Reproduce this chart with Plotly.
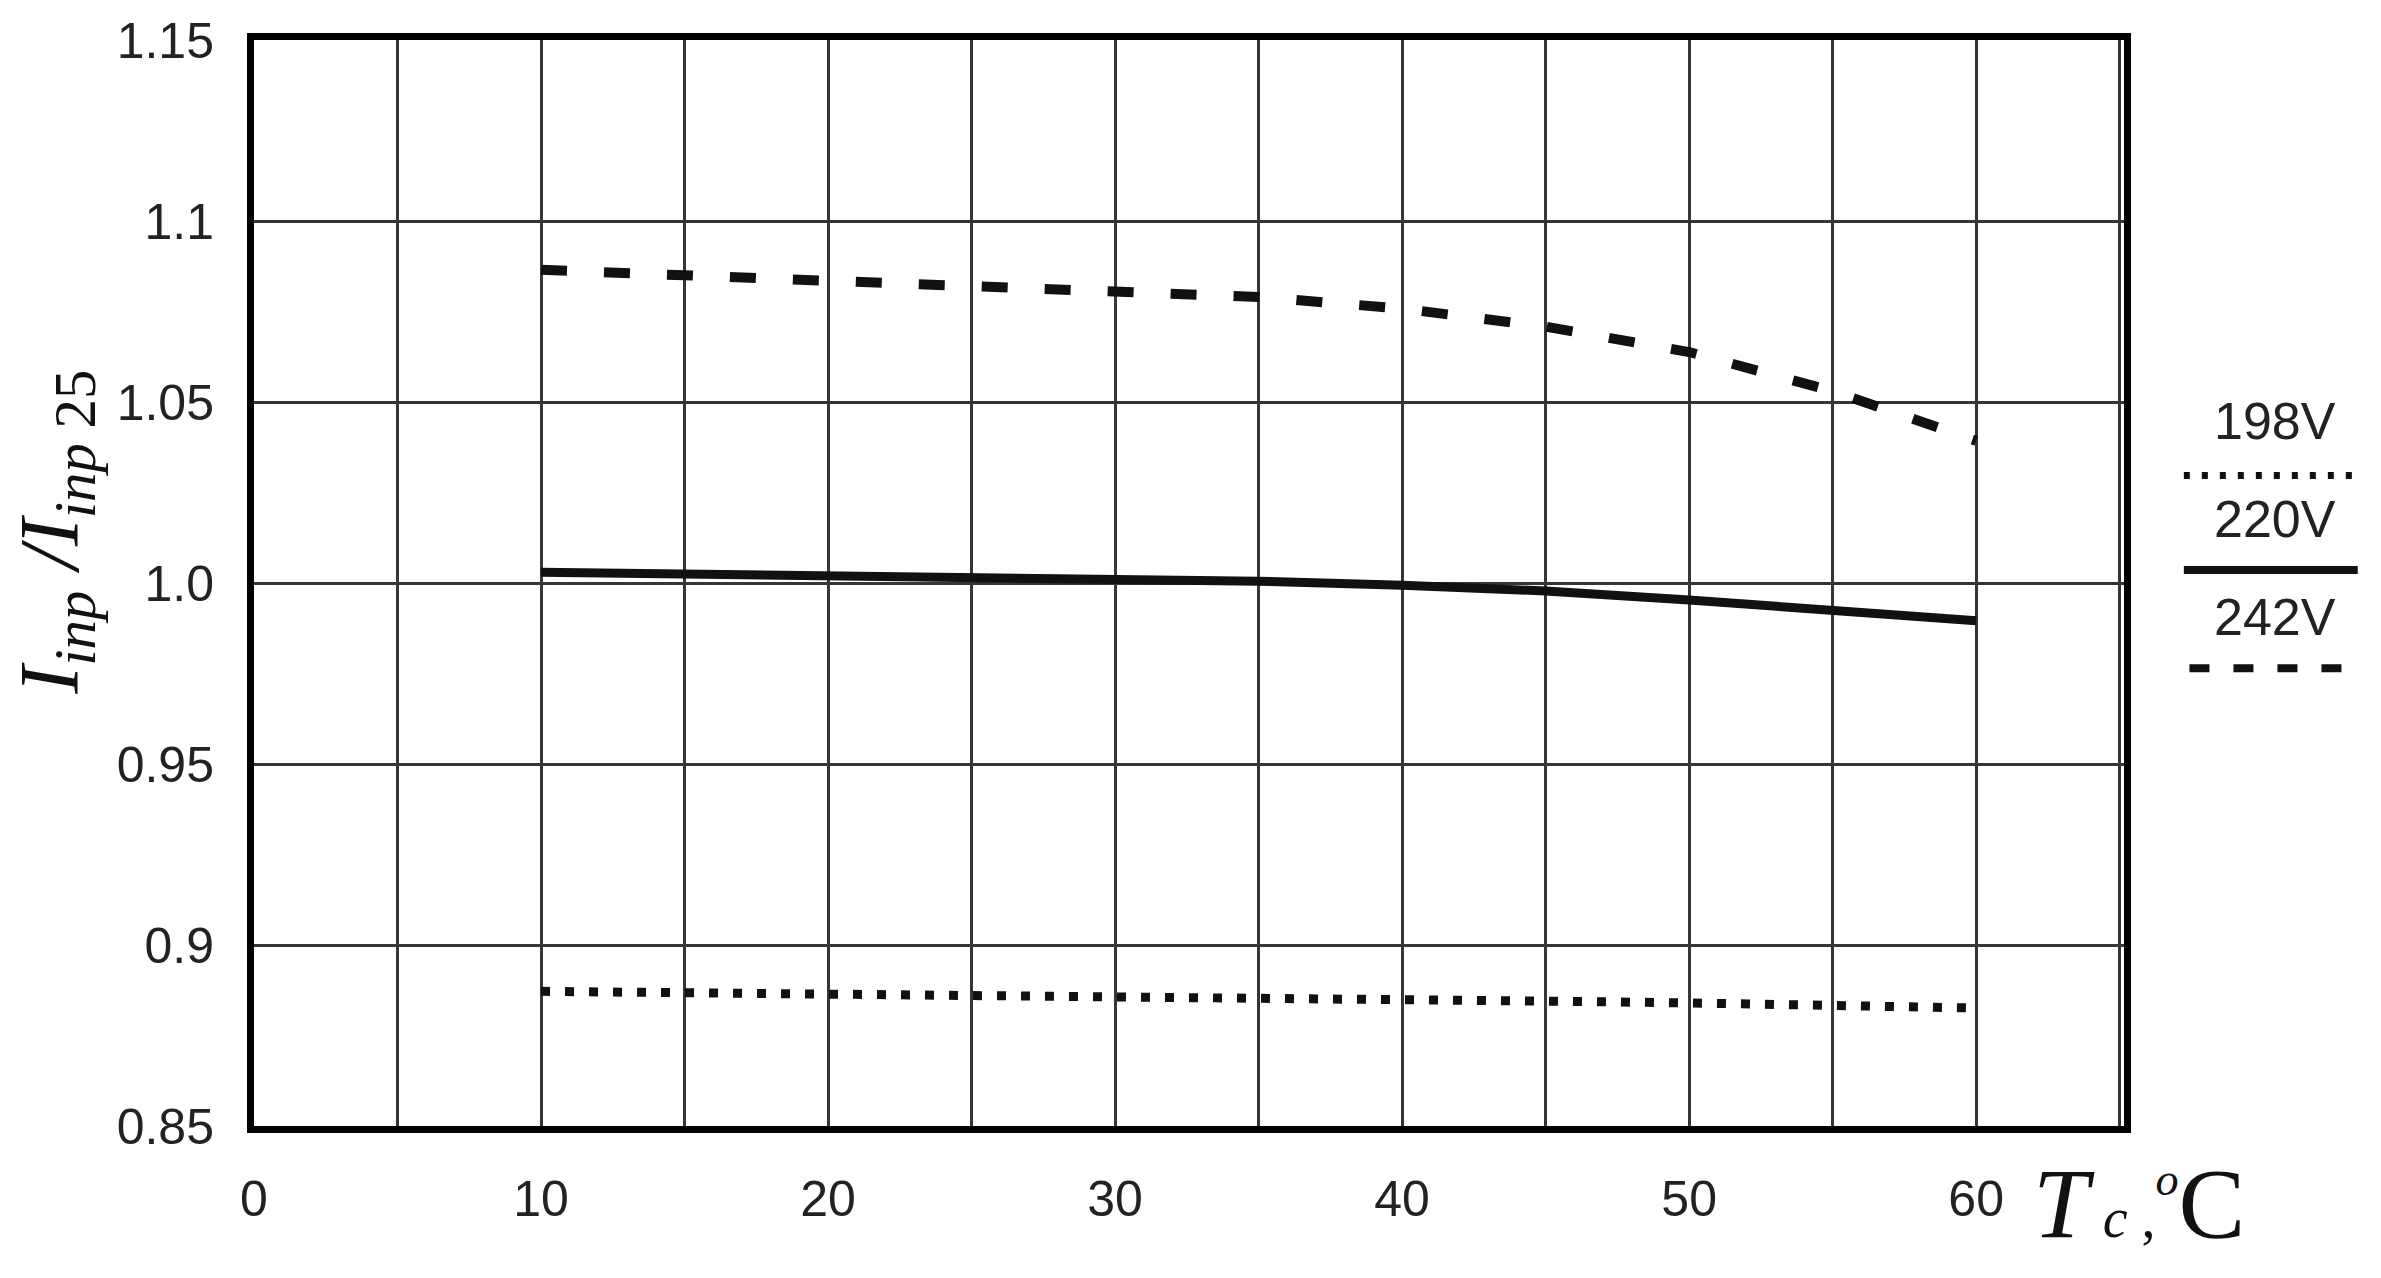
"""Relative input current vs case temperature for three supply voltages."""

import plotly.graph_objects as go

# temperature points (deg C)
temp_c = [10, 15, 20, 25, 30, 35, 40, 45, 50, 55, 60]

# I_inp / I_inp25
ratio_198v = [0.8872, 0.8869, 0.8866, 0.8862, 0.8858, 0.8854, 0.8850, 0.8845, 0.8840, 0.8834, 0.8826]
ratio_220v = [1.0030, 1.0026, 1.0022, 1.0018, 1.0013, 1.0005, 0.9994, 0.9978, 0.9953, 0.9927, 0.9896]
ratio_242v = [1.0865, 1.0850, 1.0838, 1.0825, 1.0810, 1.0790, 1.0758, 1.0708, 1.0638, 1.0530, 1.0393]

x_ticks = [0, 10, 20, 30, 40, 50, 60]
y_ticks = [0.85, 0.9, 0.95, 1.0, 1.05, 1.1, 1.15]
y_ticktext = ['0.85', '0.9', '0.95', '1.0', '1.05', '1.1', '1.15']

series = [
    ('198V', ratio_198v, 9, '9px,15px'),
    ('220V', ratio_220v, 9, 'solid'),
    ('242V', ratio_242v, 10, '26px,37px'),
]

SANS = 'Liberation Sans, Arial, sans-serif'
SERIF = 'Liberation Serif, Times New Roman, serif'
GRID = '#363636'

fig = go.Figure()

for name, vals, width, dash in series:
  fig.add_trace(
      go.Scatter(
          x=temp_c,
          y=vals,
          mode='lines',
          name=name,
          line=dict(color='#111111', width=width, dash=dash),
          showlegend=False,
      )
  )

# hand-made legend on the right: label above a line sample
legend_items = [
    ('198V', 0.649, 0.599, 7, '6px,12px', 1.032, 1.125),
    ('220V', 0.559, 0.512, 8, 'solid', 1.032, 1.125),
    ('242V', 0.469, 0.4215, 8, '20px,24px', 1.035, 1.118),
]
for label, ty, ly, lw, ldash, x0, x1 in legend_items:
  fig.add_annotation(
      x=1.081, y=ty, xref='paper', yref='paper',
      text=label, showarrow=False, xanchor='center', yanchor='middle',
      font=dict(family=SANS, size=52, color='#222222'),
  )
  fig.add_shape(
      type='line', xref='paper', yref='paper',
      x0=x0, x1=x1, y0=ly, y1=ly,
      line=dict(color='#111111', width=lw, dash=ldash),
  )

# axis titles
fig.add_annotation(
    x=-0.106, y=0.547, xref='paper', yref='paper',
    text='<i>I<sub>inp</sub> /I<sub>inp</sub></i><sub> 25</sub>',
    textangle=-90, showarrow=False, xanchor='center', yanchor='middle',
    font=dict(family=SERIF, size=84, color='#111111'),
)
fig.add_annotation(
    x=0.950, y=-0.071, xref='paper', yref='paper',
    text=("<i>T</i><span style='font-size:56px'> <i>c</i> ,</span>"
          "<sup><span style='font-size:66%'><i>o</i></span></sup>C"),
    showarrow=False, xanchor='left', yanchor='middle',
    font=dict(family=SERIF, size=100, color='#111111'),
)

fig.update_layout(
    width=2381,
    height=1278,
    plot_bgcolor='white',
    paper_bgcolor='white',
    margin=dict(l=254, r=257, t=37, b=152),
    xaxis=dict(
        range=[0, 65.15],
        tickvals=x_ticks,
        ticktext=[str(v) for v in x_ticks],
        showgrid=True, gridcolor=GRID, gridwidth=3,
        minor=dict(dtick=5, tick0=0, showgrid=True, gridcolor=GRID, gridwidth=3),
        zeroline=False,
        showline=True, mirror=True, linecolor='black', linewidth=7,
        ticks='', ticklabelstandoff=23,
        tickfont=dict(family=SANS, size=50, color='#222222'),
    ),
    yaxis=dict(
        range=[0.85, 1.15],
        tickvals=y_ticks,
        ticktext=y_ticktext,
        showgrid=True, gridcolor=GRID, gridwidth=3,
        zeroline=False,
        showline=True, mirror=True, linecolor='black', linewidth=7,
        ticks='', ticklabelstandoff=23,
        tickfont=dict(family=SANS, size=50, color='#222222'),
    ),
)

fig.write_html(
    'out.html',
    config={'displayModeBar': False},
    post_script="document.body.style.margin='0';document.body.style.overflow='hidden';",
)
